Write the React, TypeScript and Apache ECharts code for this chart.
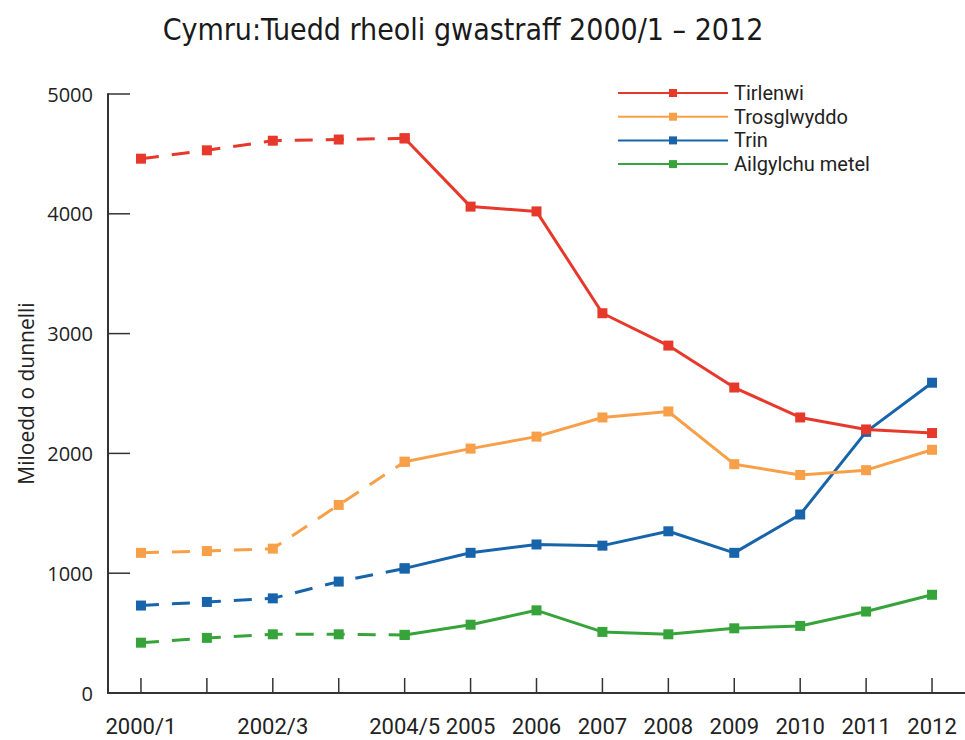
import React, { useEffect, useRef } from "react";
import * as echarts from "echarts";

const titleText = "Cymru:Tuedd rheoli gwastraff 2000/1 – 2012";
const yAxisName = "Miloedd o dunnelli";
const categories = ["2000/1", "2001/2", "2002/3", "2003/4", "2004/5", "2005", "2006", "2007", "2008", "2009", "2010", "2011", "2012"];
const xTickLabels = ["2000/1", "", "2002/3", "", "2004/5", "2005", "2006", "2007", "2008", "2009", "2010", "2011", "2012"];
const yTickValues = [1000, 2000, 3000, 4000, 5000];
const seriesNames = ["Tirlenwi", "Trosglwyddo", "Trin", "Ailgylchu metel"];
const tirlenwi = [4460, 4530, 4610, 4620, 4630, 4060, 4020, 3170, 2900, 2550, 2300, 2200, 2170];
const trosglwyddo = [1170, 1185, 1205, 1570, 1930, 2040, 2140, 2300, 2350, 1910, 1820, 1860, 2030];
const trin = [730, 760, 790, 930, 1040, 1170, 1240, 1230, 1350, 1170, 1490, 2180, 2590];
const ailgylchuMetel = [420, 460, 490, 490, 485, 570, 690, 510, 490, 540, 560, 680, 820];
const colors = ["#e6392c", "#f7a049", "#1864ab", "#37a43b"];
const dashedUntil = 4; // last index of the dashed (estimated) part

export default function App() {
  const ref = useRef<HTMLDivElement>(null);
  useEffect(() => {
    document.body.style.margin = "0";
    const chart = echarts.init(ref.current!, null, { renderer: "svg" });
    const all = [tirlenwi, trosglwyddo, trin, ailgylchuMetel];
    const series: any[] = [];
    // inward-pointing axis ticks, positioned through the chart's own scales
    series.push({
      type: "custom",
      name: "xticks",
      silent: true,
      z: 1,
      data: categories.map((_c, i) => [i, 0]),
      renderItem: (_params: any, api: any) => {
        const p = api.coord([api.value(0), 0]);
        return {
          type: "line",
          shape: { x1: p[0], y1: p[1], x2: p[0], y2: p[1] - 15 },
          style: { stroke: "#333", lineWidth: 1.5 },
        };
      },
    });
    series.push({
      type: "custom",
      name: "yticks",
      silent: true,
      z: 1,
      data: yTickValues.map((v) => [0, v]),
      renderItem: (params: any, api: any) => {
        const p = api.coord([0, api.value(1)]);
        const x0 = params.coordSys.x;
        return {
          type: "line",
          shape: { x1: x0, y1: p[1], x2: x0 + 22, y2: p[1] },
          style: { stroke: "#333", lineWidth: 1.5 },
        };
      },
    });
    all.forEach((arr, k) => {
      const common = {
        type: "line",
        symbol: "rect",
        symbolSize: 10,
        color: colors[k],
        itemStyle: { color: colors[k] },
        z: 10 - k,
      };
      series.push({
        ...common,
        name: seriesNames[k],
        data: arr.map((v, i) => (i >= dashedUntil ? v : null)),
        lineStyle: { width: 3, color: colors[k] },
      });
      series.push({
        ...common,
        name: seriesNames[k] + " (dash)",
        data: arr.map((v, i) => (i <= dashedUntil ? v : null)),
        lineStyle: { width: 3, color: colors[k], type: [18, 13] },
      });
    });
    chart.setOption({
      animation: false,
      backgroundColor: "#ffffff",
      graphic: [
        {
          type: "text",
          x: 463,
          y: 29,
          style: {
            text: titleText,
            fontFamily: "'DejaVu Sans Condensed', Roboto, sans-serif",
            fontSize: 30,
            fill: "#1a1a1a",
            textAlign: "center",
            textVerticalAlign: "middle",
          },
        },
      ],
      legend: {
        data: seriesNames,
        orient: "vertical",
        left: 617,
        top: 83,
        padding: 0,
        itemWidth: 110,
        itemHeight: 10,
        itemGap: 3.7,
        textStyle: { fontFamily: "Roboto", fontSize: 20, lineHeight: 20, color: "#222", padding: [0, 0, 0, 1] },
        selectedMode: false,
      },
      grid: { left: 108, top: 94, width: 867, height: 599 },
      xAxis: {
        type: "category",
        data: categories,
        boundaryGap: true,
        axisLine: { show: true, lineStyle: { color: "#333", width: 2 } },
        axisTick: { show: false },
        axisLabel: {
          show: true,
          interval: 0,
          margin: 22,
          fontFamily: "Roboto",
          fontSize: 22,
          color: "#222",
          formatter: (_v: string, i: number) => xTickLabels[i],
        },
        splitLine: { show: false },
      },
      yAxis: {
        type: "value",
        min: 0,
        max: 5000,
        interval: 1000,
        name: yAxisName,
        nameLocation: "middle",
        nameRotate: 90,
        nameGap: 72,
        nameTextStyle: { fontFamily: "Open Sans", fontSize: 21, color: "#222" },
        axisLine: { show: true, lineStyle: { color: "#333", width: 2 } },
        axisTick: { show: false },
        axisLabel: { margin: 15, fontFamily: "Open Sans", fontSize: 20, color: "#222", formatter: (v: number) => String(v) },
        splitLine: { show: false },
      },
      series,
    });
    return () => chart.dispose();
  }, []);
  return <div ref={ref} style={{ width: 965, height: 740 }} />;
}
